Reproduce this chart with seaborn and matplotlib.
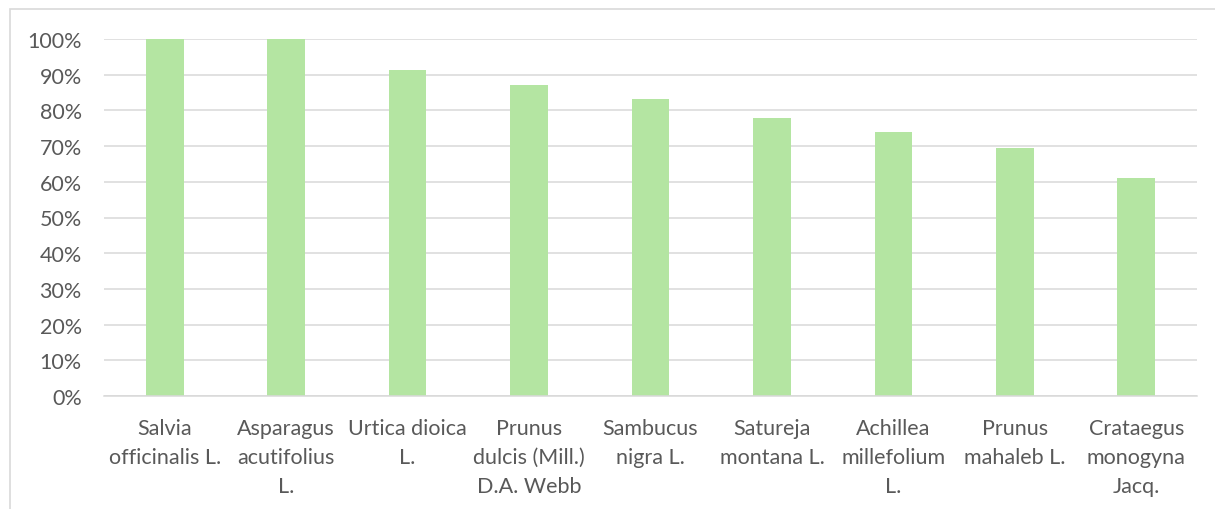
import matplotlib
matplotlib.use("Agg")
import matplotlib.pyplot as plt
import seaborn as sns
import pandas as pd
from matplotlib.ticker import PercentFormatter
from matplotlib.patches import Rectangle

species = ["Salvia officinalis L.", "Asparagus acutifolius L.", "Urtica dioica L.",
           "Prunus dulcis (Mill.) D.A. Webb", "Sambucus nigra L.", "Satureja montana L.",
           "Achillea millefolium L.", "Prunus mahaleb L.", "Crataegus monogyna Jacq."]
tick_labels = ["Salvia\nofficinalis L.", "Asparagus\nacutifolius\nL.", "Urtica dioica\nL.",
               "Prunus\ndulcis (Mill.)\nD.A. Webb", "Sambucus\nnigra L.", "Satureja\nmontana L.",
               "Achillea\nmillefolium\nL.", "Prunus\nmahaleb L.", "Crataegus\nmonogyna\nJacq."]
values = [1.00, 1.00, 0.913, 0.870, 0.831, 0.779, 0.740, 0.695, 0.610]
y_ticks = [0, 0.1, 0.2, 0.3, 0.4, 0.5, 0.6, 0.7, 0.8, 0.9, 1.0]

sns.set_style("white")
plt.rcParams['font.family'] = ['Lato', 'DejaVu Sans']
text_color = "#595959"
grid_color = "#d9d9d9"

fig = plt.figure(figsize=(12.15, 5.1), dpi=100)
ax = fig.add_axes([104/1215, 1-397/510, (1197-104)/1215, (397-40)/510])

df = pd.DataFrame({"species": species, "value": values})
sns.barplot(data=df, x="species", y="value", color="#B4E5A2", width=0.31,
            saturation=1, ax=ax, edgecolor="none")

ax.set_ylim(0, 1.0)
ax.set_xlim(-0.5, len(species) - 0.5)
ax.set_yticks(y_ticks)
ax.yaxis.set_major_formatter(PercentFormatter(1.0, decimals=0))
ax.set_xticks(range(len(species)))
ax.set_xticklabels(tick_labels, linespacing=1.57, ha="center")
ax.set_xlabel("")
ax.set_ylabel("")
ax.grid(axis="y", color=grid_color, linewidth=1.1)
ax.set_axisbelow(True)
for s in ["top", "right", "left"]:
    ax.spines[s].set_visible(False)
ax.spines["bottom"].set_color(grid_color)
ax.spines["bottom"].set_linewidth(1.1)
ax.tick_params(axis="y", length=0, pad=16, labelsize=15.5, labelcolor=text_color)
ax.tick_params(axis="x", length=0, pad=16, labelsize=15.5, labelcolor=text_color)

# chart outer frame (top and left visible)
fig.patches.append(Rectangle((10/1215, -0.1), 1.2, (510-10)/510 + 0.1,
                             transform=fig.transFigure, fill=False,
                             edgecolor=grid_color, linewidth=1.2))

fig.savefig("out.png", dpi=100)
